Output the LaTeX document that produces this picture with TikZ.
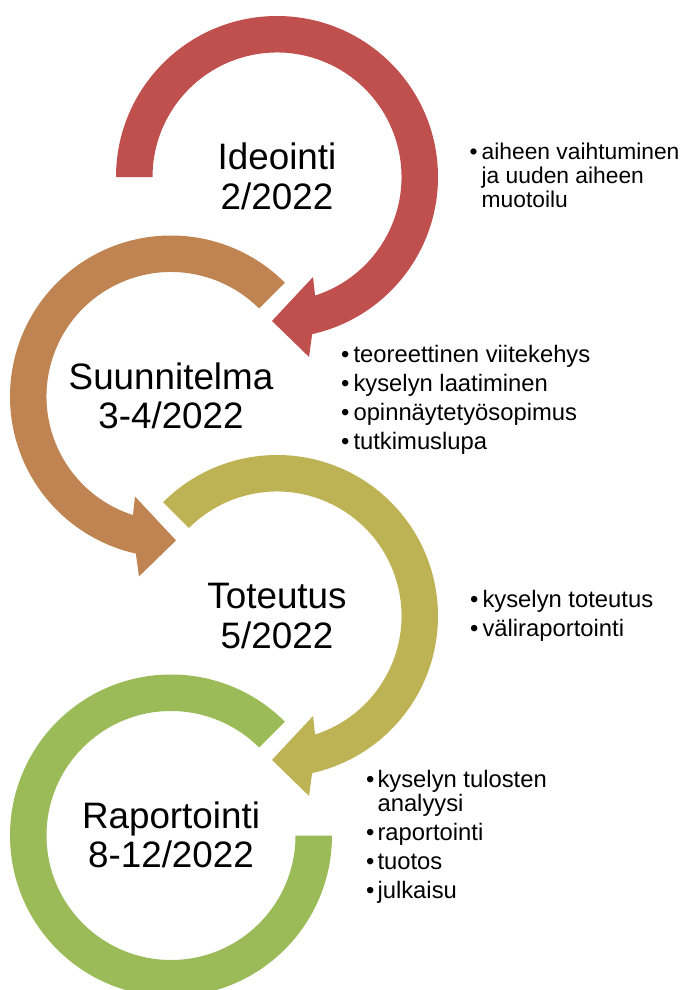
\documentclass[tikz,border=0pt]{standalone}
\usepackage{fontspec}
\setmainfont{Liberation Sans}
\definecolor{cred}{HTML}{C0504D}
\definecolor{corange}{HTML}{BF8451}
\definecolor{colive}{HTML}{BEB354}
\definecolor{cgreen}{HTML}{9BBB59}
\newcommand{\Ro}{161}
\newcommand{\Ri}{124.5}
\begin{document}
\begin{tikzpicture}[x=1pt,y=1pt,
  ring/.style={fill=#1, draw=none},
  title/.style={anchor=base, inner sep=0pt, font=\fontsize{36.8}{39.5}\selectfont},
  bul/.style={anchor=base west, inner sep=0pt, font=\fontsize{23.8}{23.8}\selectfont}]
\useasboundingbox (0,0) rectangle (691,-990);
\clip (0,0) rectangle (691,-990);
\coordinate (c1) at (277,-177);
\coordinate (c2) at (171,-396.5);
\coordinate (c3) at (277,-616);
\coordinate (c4) at (171,-835.5);
% circle 1 (clockwise, arrow at bottom)
\begin{scope}[shift={(c1)}]
\fill[ring=cred] (180:\Ro) arc[start angle=180, end angle=-77.4, radius=\Ro]
  -- (-79.9:182.8) -- (-92:144) -- (-70.2:106.3) -- (-72.2:\Ri)
  arc[start angle=-72.2, end angle=180, radius=\Ri] -- cycle;
\end{scope}
% circle 2 (counter-clockwise, arrow at bottom)
\begin{scope}[shift={(c2)}]
\fill[ring=corange] (45:\Ro) arc[start angle=45, end angle=257.4, radius=\Ro]
  -- (259.9:182.8) -- (272:144) -- (250.2:106.3) -- (252.2:\Ri)
  arc[start angle=252.2, end angle=45, radius=\Ri] -- cycle;
\end{scope}
% circle 3
\begin{scope}[shift={(c3)}]
\fill[ring=colive] (135:\Ro) arc[start angle=135, end angle=-77.4, radius=\Ro]
  -- (-79.9:182.8) -- (-92:144) -- (-70.2:106.3) -- (-72.2:\Ri)
  arc[start angle=-72.2, end angle=135, radius=\Ri] -- cycle;
\end{scope}
% circle 4
\begin{scope}[shift={(c4)}]
\fill[ring=cgreen] (45:\Ro) arc[start angle=45, end angle=360, radius=\Ro]
  -- (0:\Ri) arc[start angle=360, end angle=45, radius=\Ri] -- cycle;
\end{scope}
% titles
\node[title] (t1) at (277,-169.5) {\begin{tabular}[t]{@{}c@{}}Ideointi\\2/2022\end{tabular}};
\node[title] (t2) at (171,-389) {\begin{tabular}[t]{@{}c@{}}Suunnitelma\\3-4/2022\end{tabular}};
\node[title] (t3) at (277,-608.5) {\begin{tabular}[t]{@{}c@{}}Toteutus\\5/2022\end{tabular}};
\node[title] (t4) at (171,-828) {\begin{tabular}[t]{@{}c@{}}Raportointi\\8-12/2022\end{tabular}};
% bullet texts
\node[bul, font=\fontsize{22.8}{24}\selectfont] (b1) at (469.5,-159) {\begin{tabular}[t]{@{}l@{\hspace{4pt}}l@{}}\textbullet & aiheen vaihtuminen\\ & ja uuden aiheen\\ & muotoilu\end{tabular}};
\node[bul] (b2) at (341,-362) {\begin{tabular}[t]{@{}l@{\hspace{4pt}}l@{}}\textbullet & teoreettinen viitekehys\\[4.9pt] \textbullet & kyselyn laatiminen\\[4.9pt] \textbullet & opinnäytetyösopimus\\[4.9pt] \textbullet & tutkimuslupa\end{tabular}};
\node[bul] (b3) at (470,-607) {\begin{tabular}[t]{@{}l@{\hspace{4pt}}l@{}}\textbullet & kyselyn toteutus\\[4.9pt] \textbullet & väliraportointi\end{tabular}};
\node[bul] (b4) at (366,-787) {\begin{tabular}[t]{@{}l@{\hspace{3pt}}l@{}}\textbullet & kyselyn tulosten\\ & analyysi\\[4.9pt] \textbullet & raportointi\\[4.9pt] \textbullet & tuotos\\[4.9pt] \textbullet & julkaisu\end{tabular}};
\end{tikzpicture}
\end{document}
